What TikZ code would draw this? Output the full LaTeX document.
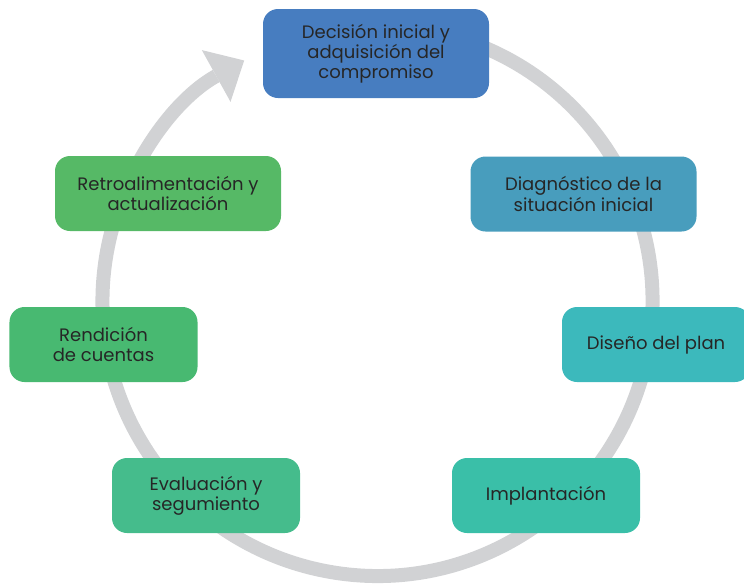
\documentclass[tikz,border=0pt]{standalone}
\usepackage{fontspec}
\setmainfont{Poppins}
\usetikzlibrary{arrows.meta}

\definecolor{anillo}{HTML}{D1D2D4}
\definecolor{texto}{HTML}{262626}
\definecolor{paso1}{HTML}{477DC0}
\definecolor{paso2}{HTML}{489DBD}
\definecolor{paso3}{HTML}{3CB9BC}
\definecolor{paso4}{HTML}{3ABFA8}
\definecolor{paso5}{HTML}{45BC8C}
\definecolor{paso6}{HTML}{48B971}
\definecolor{paso7}{HTML}{56B966}

\begin{document}
\begin{tikzpicture}[
  etapa/.style={rounded corners=0.375cm, inner sep=0pt, align=center,
    minimum width=4.7cm, minimum height=1.875cm, text=texto,
    font=\fontsize{12.8}{14.3}\selectfont},
  ancha/.style={minimum width=5.65cm}]

\useasboundingbox (0,0) rectangle (18.6,-14.575);

% Anillo
\coordinate (centro) at (9.4375,-7.525);
\draw[anillo, line width=0.35cm,
  -{Triangle[length=0.8cm, width=1.48cm, line width=0pt]}]
  (centro) ++(80:6.875) arc[start angle=80, end angle=-241, radius=6.875];

% Etapas
\node[etapa, ancha, fill=paso1, minimum height=2.225cm] (decision)
  at (9.4,-1.3375) {Decisión inicial y\\adquisición del\\compromiso};
\node[etapa, ancha, fill=paso2] (diagnostico)
  at (14.5875,-4.85) {Diagnóstico de la\\situación inicial};
\node[etapa, fill=paso3] (diseno)
  at (16.4,-8.6125) {Diseño del plan};
\node[etapa, fill=paso4] (implantacion)
  at (13.65,-12.3875) {Implantación};
\node[etapa, fill=paso5] (evaluacion)
  at (5.15,-12.3875) {Evaluación y\\segumiento};
\node[etapa, fill=paso6] (rendicion)
  at (2.5875,-8.6125) {Rendición\\de cuentas};
\node[etapa, ancha, fill=paso7] (retro)
  at (4.2,-4.8375) {Retroalimentación y\\actualización};

\end{tikzpicture}
\end{document}
